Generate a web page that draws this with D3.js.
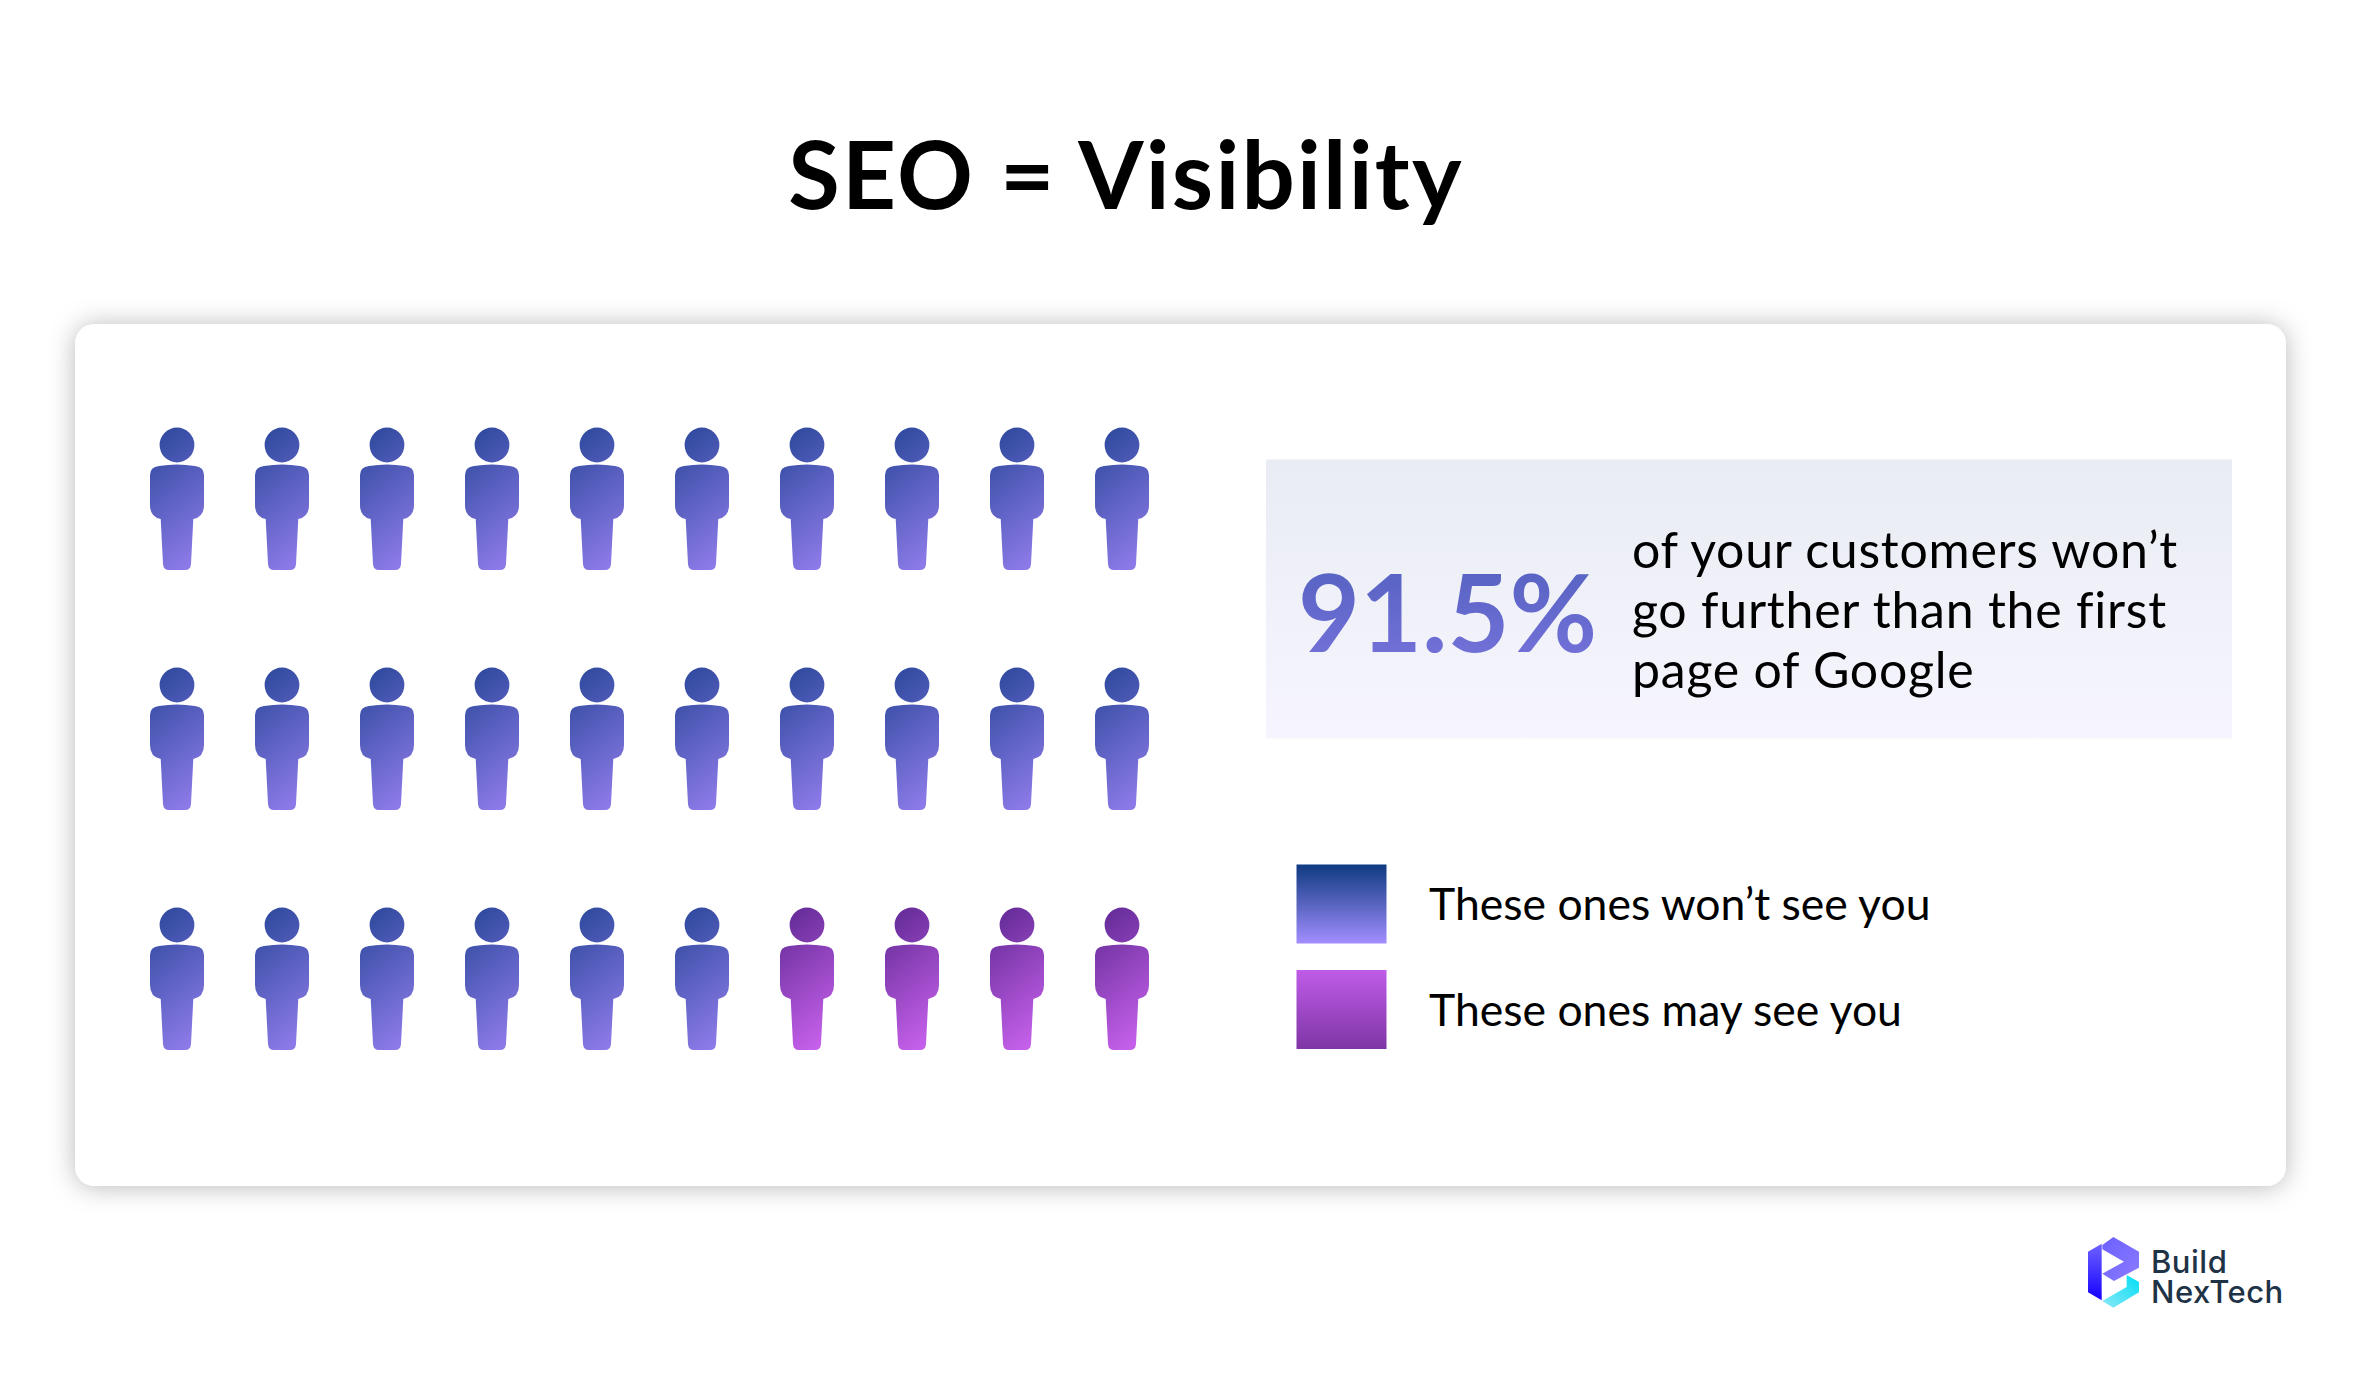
<!DOCTYPE html>
<html>
<head>
<meta charset="utf-8">
<script src="https://cdn.jsdelivr.net/npm/d3@7"></script>
<style>
  html, body { margin: 0; background: #fff; }
  text { font-family: Lato, "Noto Sans", sans-serif; }
</style>
</head>
<body>
<svg id="chart"></svg>
<script>
// Chart content
const titleText = "SEO = Visibility";
const rows = [1, 2, 3];
const columns = [1, 2, 3, 4, 5, 6, 7, 8, 9, 10];
const groupNames = ["wont", "may"];
const groupCounts = [26, 4];
const legendLabels = ["These ones won’t see you", "These ones may see you"];
const statValue = "91.5%";
const statLines = ["of your customers won’t", "go further than the first", "page of Google"];
const logoLines = ["Build", "NexTech"];

const width = 2361;
const height = 1374;

const svg = d3.select("#chart").attr("width", width).attr("height", height);
const defs = svg.append("defs");

// Gradients
function addGradient(id, x1, y1, x2, y2, stops) {
    const g = defs.append("linearGradient").attr("id", id)
        .attr("x1", x1).attr("y1", y1).attr("x2", x2).attr("y2", y2);
    stops.forEach((c, i) => g.append("stop")
        .attr("offset", i / (stops.length - 1)).attr("stop-color", c));
}
addGradient("person-wont", 0.3, 0, 0.6, 1, ["#2f4a9e", "#8c7ae8"]);
addGradient("person-may", 0.3, 0, 0.6, 1, ["#652c98", "#c560ea"]);
addGradient("swatch-wont", 0, 0, 0, 1, ["#0e3a80", "#a28eff"]);
addGradient("swatch-may", 0, 0, 0, 1, ["#bf5ce8", "#7f35a5"]);
addGradient("panel-fill", 0, 0, 0, 1, ["#e9ecf3", "#f6f5fe"]);
addGradient("stat-fill", 0, 0, 0, 1, ["#5060bd", "#7873dc"]);
addGradient("logo-top", 0, 0, 1, 1, ["#6b60ff", "#8b7cff"]);
addGradient("logo-left", 0, 0, 0, 1, ["#6f62ff", "#1400ff"]);
addGradient("logo-low", 1, 0, 0, 1, ["#00def5", "#8ce8f6"]);

const shadow = defs.append("filter").attr("id", "card-shadow")
    .attr("x", "-5%").attr("y", "-10%").attr("width", "110%").attr("height", "120%");
shadow.append("feDropShadow").attr("dx", 0).attr("dy", 1).attr("stdDeviation", 13)
    .attr("flood-color", "#000").attr("flood-opacity", 0.28);

// Title
svg.append("text").attr("x", 1126).attr("y", 209).attr("text-anchor", "middle")
    .attr("font-size", 94).attr("font-weight", 700).attr("letter-spacing", 2.2).attr("fill", "#000")
    .text(titleText);

// Card
svg.append("rect").attr("x", 75).attr("y", 324).attr("width", 2211).attr("height", 862)
    .attr("rx", 20).attr("fill", "#fff").attr("filter", "url(#card-shadow)");

// Pictogram
const x = d3.scalePoint().domain(columns).range([177, 1122]);
const y = d3.scalePoint().domain(rows).range([445, 925]);

const people = [];
const groupOf = groupNames.flatMap((name, i) => d3.range(groupCounts[i]).map(() => name));
rows.forEach((r, ri) => columns.forEach((c, ci) => {
    people.push({ row: r, col: c, group: groupOf[ri * columns.length + ci] });
}));

// One icon, head centre at 0,0
const personPath = "M-17.4,0a17.4,17.4 0 1,0 34.8,0a17.4,17.4 0 1,0 -34.8,0Z" +
    "M-27,30Q-27,22 -18,21Q0,18 18,21Q27,22 27,30V60Q27,72 16.3,74L14,119Q13.6,125 8,125" +
    "H-8Q-13.6,125 -14,119L-16.3,74Q-27,72 -27,60Z";

svg.append("g").selectAll("path")
    .data(people)
    .enter().append("path")
    .attr("d", personPath)
    .attr("transform", d => `translate(${x(d.col)},${y(d.row)})`)
    .attr("fill", d => `url(#person-${d.group})`);

// Stat panel
svg.append("rect").attr("x", 1266).attr("y", 459.5).attr("width", 966).attr("height", 279)
    .attr("fill", "url(#panel-fill)");
svg.append("text").attr("x", 1298).attr("y", 652)
    .attr("font-size", 107).attr("font-weight", 700).attr("fill", "url(#stat-fill)")
    .text(statValue);
svg.append("g").selectAll("text")
    .data(statLines)
    .enter().append("text")
    .attr("x", 1632).attr("y", (d, i) => 568 + i * 60)
    .attr("font-size", 50).attr("letter-spacing", 0.75).attr("fill", "#000")
    .text(d => d);

// Legend
const legendY = d3.scalePoint().domain(groupNames).range([864.5, 970]);
const legend = svg.append("g");
legend.selectAll("rect")
    .data(groupNames)
    .enter().append("rect")
    .attr("x", 1296.5).attr("y", d => legendY(d))
    .attr("width", 90).attr("height", 79)
    .attr("fill", d => `url(#swatch-${d})`);
legend.selectAll("text")
    .data(groupNames)
    .enter().append("text")
    .attr("x", 1429).attr("y", d => legendY(d) + 55.5)
    .attr("font-size", 44.5).attr("fill", "#000")
    .text((d, i) => legendLabels[i]);

// Logo
const logo = svg.append("g").attr("transform", "translate(2060,1221) scale(0.3333)");
logo.append("polygon").attr("fill", "url(#logo-left)")
    .attr("points", "84,92 125,68 125,238 84,214");
logo.append("polygon").attr("fill", "url(#logo-top)")
    .attr("points", "127,72 160,48 237,92 237,140 162,180 127,158 192,122 127,85");
logo.append("polygon").attr("fill", "url(#logo-low)")
    .attr("points", "200,162 237,183 237,214 160,260 127,240 200,198");
svg.append("g").selectAll("text")
    .data(logoLines)
    .enter().append("text")
    .attr("x", 2151).attr("y", (d, i) => 1273 + i * 30)
    .attr("font-size", 31).attr("font-weight", 500).attr("letter-spacing", 0.5).attr("fill", "#1f3347")
    .style("font-family", "Inter")
    .text(d => d);
</script>
</body>
</html>
